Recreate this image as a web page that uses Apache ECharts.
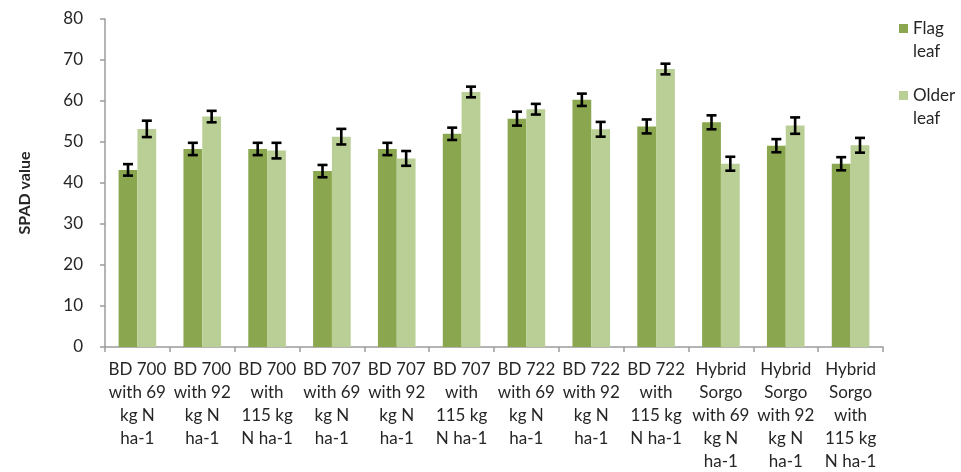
<!DOCTYPE html>
<html>
<head>
<meta charset="utf-8">
<script src="https://cdn.jsdelivr.net/npm/echarts@6/dist/echarts.min.js"></script>
<style>
  html, body { margin: 0; padding: 0; background: #fff; }
  #chart { width: 961px; height: 472px; }
</style>
</head>
<body>
<div id="chart"></div>
<script>
// Treatments (variety × nitrogen rate), wrapped as on the axis
const categories = [
  'BD 700\nwith 69\nkg N\nha-1',
  'BD 700\nwith 92\nkg N\nha-1',
  'BD 700\nwith\n115 kg\nN ha-1',
  'BD 707\nwith 69\nkg N\nha-1',
  'BD 707\nwith 92\nkg N\nha-1',
  'BD 707\nwith\n115 kg\nN ha-1',
  'BD 722\nwith 69\nkg N\nha-1',
  'BD 722\nwith 92\nkg N\nha-1',
  'BD 722\nwith\n115 kg\nN ha-1',
  'Hybrid\nSorgo\nwith 69\nkg N\nha-1',
  'Hybrid\nSorgo\nwith 92\nkg N\nha-1',
  'Hybrid\nSorgo\nwith\n115 kg\nN ha-1'
];

// Mean SPAD readings
const flagLeaf  = [43.2, 48.3, 48.3, 42.9, 48.3, 52.0, 55.7, 60.3, 53.8, 54.8, 49.1, 44.7];
const olderLeaf = [53.2, 56.2, 47.9, 51.3, 46.0, 62.2, 58.0, 53.1, 67.8, 44.7, 54.0, 49.2];

// Standard errors
const flagErr  = [1.4, 1.5, 1.5, 1.5, 1.5, 1.5, 1.7, 1.5, 1.7, 1.7, 1.6, 1.6];
const olderErr = [2.0, 1.4, 1.9, 1.9, 1.8, 1.3, 1.3, 1.8, 1.3, 1.7, 2.0, 1.8];

const seriesNames = ['Flag leaf', 'Older leaf'];
const yTicks = { min: 0, max: 80, interval: 10 };

const FLAG_COLOR = '#8aa64f';
const OLDER_COLOR = '#b9cf95';
const AXIS_COLOR = '#9c9c9c';
const TEXT_COLOR = '#262626';
const FONT = 'Lato, "Open Sans", sans-serif';

const CATEGORY_GAP = 0.42;           // fraction of band left empty
const BAR_FRAC = (1 - CATEGORY_GAP) / 2;

// Error bar renderer; side = -1 for the left bar of a pair, +1 for the right
function errorBarRenderer(side) {
  return function (params, api) {
    const idx = api.value(0);
    const hi = api.coord([idx, api.value(1)]);
    const lo = api.coord([idx, api.value(2)]);
    const band = api.size([1, 0])[0];
    const x = hi[0] + side * band * BAR_FRAC / 2;
    const cap = 5;
    const style = { stroke: '#000', lineWidth: 2.6, fill: null };
    return {
      type: 'group',
      children: [
        { type: 'line', shape: { x1: x, y1: hi[1], x2: x, y2: lo[1] }, style },
        { type: 'line', shape: { x1: x - cap, y1: hi[1], x2: x + cap, y2: hi[1] }, style },
        { type: 'line', shape: { x1: x - cap, y1: lo[1], x2: x + cap, y2: lo[1] }, style }
      ]
    };
  };
}

function errData(vals, errs) {
  return vals.map((v, i) => [i, v + errs[i], v - errs[i]]);
}

// Legend swatch level with the first line of a two-line label (46px tall block)
const legendIcon = 'path://M0,0L0.01,0L0.01,0.01Z M0,7L9,7L9,16L0,16Z M0,46L0.01,46L0.01,46.01Z';

const chart = echarts.init(document.getElementById('chart'), null, { renderer: 'canvas' });
chart.setOption({
  animation: false,
  backgroundColor: '#fff',
  grid: {
    left: 105, right: 78, top: 19, bottom: 125,
    containLabel: false, outerBoundsMode: 'none'
  },
  legend: {
    orient: 'vertical',
    left: 899,
    top: 17,
    padding: 0,
    itemWidth: 9,
    itemHeight: 46,
    itemGap: 21,
    symbolKeepAspect: false,
    icon: legendIcon,
    data: seriesNames,
    formatter: name => name.replace(' ', '\n'),
    textStyle: {
      fontFamily: FONT, fontSize: 17, color: TEXT_COLOR, lineHeight: 23
    }
  },
  xAxis: {
    type: 'category',
    data: categories,
    axisLine: { lineStyle: { color: AXIS_COLOR, width: 1.5 } },
    axisTick: { show: true, alignWithLabel: false, length: 5, lineStyle: { color: AXIS_COLOR, width: 1.5 } },
    axisLabel: {
      interval: 0, margin: 11,
      fontFamily: FONT, fontSize: 17, color: TEXT_COLOR, lineHeight: 23
    }
  },
  yAxis: {
    type: 'value',
    min: yTicks.min, max: yTicks.max, interval: yTicks.interval,
    name: 'SPAD value',
    nameLocation: 'middle',
    nameGap: 72,
    nameTextStyle: {
      fontFamily: FONT, fontSize: 16, fontWeight: 'bold', color: TEXT_COLOR,
      padding: [0, 20, 0, 0]
    },
    axisLine: { show: true, lineStyle: { color: AXIS_COLOR, width: 1.5 } },
    axisTick: { show: true, length: 5, lineStyle: { color: AXIS_COLOR, width: 1.5 } },
    axisLabel: { margin: 22, fontFamily: FONT, fontSize: 17, color: TEXT_COLOR },
    splitLine: { show: false }
  },
  series: [
    {
      name: seriesNames[0], type: 'bar', data: flagLeaf,
      barGap: '0%', barCategoryGap: (CATEGORY_GAP * 100) + '%',
      itemStyle: { color: FLAG_COLOR }
    },
    {
      name: seriesNames[1], type: 'bar', data: olderLeaf,
      barGap: '0%', barCategoryGap: (CATEGORY_GAP * 100) + '%',
      itemStyle: { color: OLDER_COLOR }
    },
    {
      type: 'custom', name: 'flag-err', data: errData(flagLeaf, flagErr),
      renderItem: errorBarRenderer(-1), z: 10, silent: true,
      encode: { x: 0, y: [1, 2] }
    },
    {
      type: 'custom', name: 'older-err', data: errData(olderLeaf, olderErr),
      renderItem: errorBarRenderer(1), z: 10, silent: true,
      encode: { x: 0, y: [1, 2] }
    }
  ]
});
</script>
</body>
</html>
